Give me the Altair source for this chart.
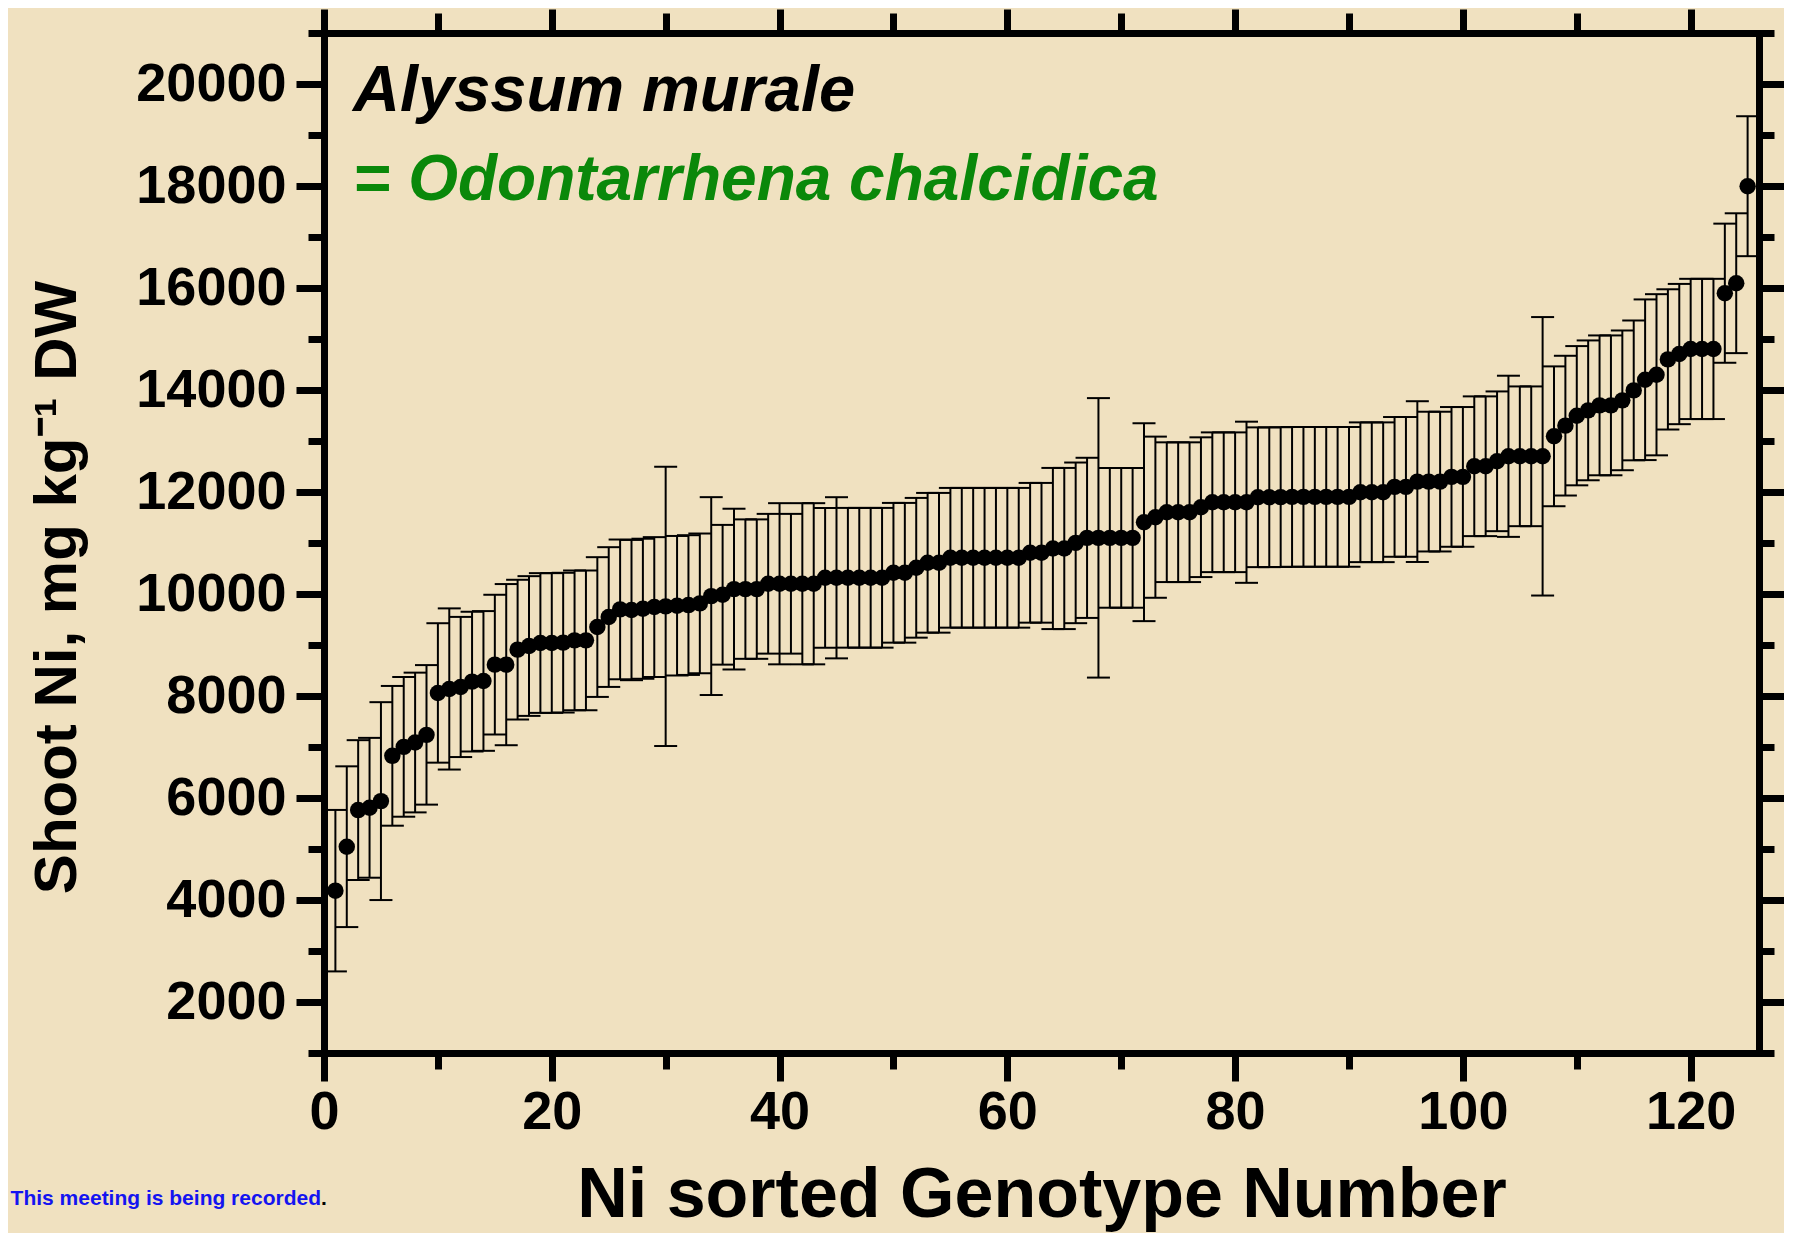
import altair as alt
import pandas as pd

# ---------------- data ----------------
genotype = list(range(1, 126))

shoot_ni = [
    4183, 5045, 5763, 5808, 5939, 6827, 7003, 7088, 7238, 8060,
    8138, 8177, 8282, 8295, 8615, 8615, 8909, 8980, 9039, 9039,
    9046, 9091, 9091, 9352, 9548, 9698, 9685, 9711, 9744, 9757,
    9770, 9783, 9816, 9959, 9985, 10096, 10096, 10096, 10201, 10201,
    10201, 10201, 10201, 10318, 10318, 10318, 10318, 10318, 10318, 10416,
    10416, 10514, 10612, 10612, 10710, 10710, 10710, 10710, 10710, 10710,
    10710, 10808, 10808, 10892, 10892, 11003, 11101, 11101, 11101, 11101,
    11101, 11408, 11506, 11604, 11604, 11604, 11702, 11799, 11799, 11799,
    11799, 11897, 11897, 11900, 11904, 11904, 11904, 11904, 11904, 11904,
    11995, 11995, 11995, 12100, 12100, 12204, 12204, 12204, 12296, 12296,
    12505, 12505, 12602, 12700, 12700, 12700, 12700, 13092, 13301, 13496,
    13601, 13699, 13699, 13797, 13992, 14201, 14299, 14600, 14705, 14805,
    14805, 14805, 15898, 16094, 17996,
]

ni_err = [
    1583, 1576, 1371, 1371, 1940, 1370, 1370, 1370, 1368, 1367,
    1580, 1374, 1370, 1370, 1370, 1580, 1370, 1370, 1370, 1370,
    1370, 1370, 1370, 1370, 1370, 1370, 1375, 1373, 1371, 2738,
    1368, 1370, 1370, 1940, 1370, 1576, 1367, 1367, 1370, 1580,
    1370, 1580, 1580, 1370, 1580, 1370, 1370, 1370, 1370, 1370,
    1370, 1370, 1370, 1370, 1370, 1370, 1370, 1370, 1370, 1370,
    1370, 1370, 1370, 1580, 1580, 1575, 1570, 2740, 1370, 1370,
    1370, 1940, 1580, 1370, 1370, 1370, 1370, 1370, 1370, 1370,
    1580, 1370, 1370, 1370, 1370, 1370, 1370, 1370, 1370, 1370,
    1370, 1370, 1370, 1370, 1370, 1576, 1370, 1370, 1370, 1370,
    1370, 1370, 1370, 1580, 1370, 1370, 2730, 1371, 1370, 1365,
    1371, 1371, 1371, 1370, 1371, 1575, 1580, 1375, 1375, 1375,
    1375, 1375, 1364, 1371, 1372,
]

x_major = list(range(0, 121, 20))
x_minor = list(range(0, 121, 10))
y_major = list(range(2000, 20001, 2000))
y_minor = list(range(1000, 21001, 1000))

title_species = "Alyssum murale"
title_synonym = "= Odontarrhena chalcidica"
x_title = "Ni sorted Genotype Number"
y_title = "Shoot Ni, mg kg\u207b\u00b9 DW"
watermark = "This meeting is being recorded"

df = pd.DataFrame({"g": genotype, "m": shoot_ni, "e": ni_err})
df["lo"] = df["m"] - df["e"]
df["hi"] = df["m"] + df["e"]

# ---------------- layout ----------------
W, H = 1435, 1020
FONT = "Liberation Sans"
BG = "#F0E1C0"

xs = alt.Scale(domain=[0, 126], nice=False, zero=False)
ys = alt.Scale(domain=[1000, 21000], nice=False, zero=False)

common = dict(grid=False, tickColor="black", tickWidth=7, domainColor="black",
              domainWidth=7, domainCap="square")

lab = dict(labelFont=FONT, labelFontSize=54, labelFontWeight="bold",
           labelColor="black", labelFlush=False, labelOverlap=False, format="d")

ax_b_major = alt.Axis(orient="bottom", values=x_major, tickSize=28, labelPadding=4,
                      title=x_title, titleFont=FONT, titleFontSize=70,
                      titleFontWeight="bold", titleColor="black", titleX=W / 2,
                      titleY=163, titleAlign="center", titleBaseline="alphabetic",
                      **lab, **common)
ax_b_minor = alt.Axis(orient="bottom", values=x_minor, tickSize=16, labels=False,
                      title=None, **common)
ax_t_major = alt.Axis(orient="top", values=x_major, tickSize=24, labels=False,
                      title=None, **common)
ax_t_minor = alt.Axis(orient="top", values=x_minor, tickSize=20, labels=False,
                      title=None, **common)

ax_l_major = alt.Axis(orient="left", values=y_major, tickSize=28, labelPadding=10,
                      title=y_title, titleFont=FONT, titleFontSize=60,
                      titleFontWeight="bold", titleColor="black", titleAngle=270,
                      titleX=-267, titleY=554, titleAlign="center",
                      titleBaseline="middle", **lab, **common)
ax_l_minor = alt.Axis(orient="left", values=y_minor, tickSize=16, labels=False,
                      title=None, **common)
ax_r_major = alt.Axis(orient="right", values=y_major, tickSize=26, labels=False,
                      title=None, **common)
ax_r_minor = alt.Axis(orient="right", values=y_minor, tickSize=15, labels=False,
                      title=None, **common)

base = alt.Chart(df)

bars = base.mark_rule(color="black", strokeWidth=2).encode(
    x=alt.X("g:Q", scale=xs, axis=ax_b_major),
    y=alt.Y("lo:Q", scale=ys, axis=ax_l_major),
    y2="hi:Q",
)
cap_hi = base.mark_tick(orient="horizontal", size=23, thickness=2, color="black",
                        opacity=1).encode(
    x=alt.X("g:Q", scale=xs, axis=ax_b_minor),
    y=alt.Y("hi:Q", scale=ys, axis=ax_l_minor),
)
cap_lo = base.mark_tick(orient="horizontal", size=23, thickness=2, color="black",
                        opacity=1).encode(
    x=alt.X("g:Q", scale=xs, axis=ax_t_major),
    y=alt.Y("lo:Q", scale=ys, axis=ax_r_major),
)
pts = base.mark_circle(size=270, color="black", opacity=1).encode(
    x=alt.X("g:Q", scale=xs, axis=ax_t_minor),
    y=alt.Y("m:Q", scale=ys, axis=ax_r_minor),
)

def label(txt, x, y, size, color, style="normal", weight="bold", align="left"):
    return alt.Chart(pd.DataFrame({"t": [txt]})).mark_text(
        align=align, baseline="alphabetic", font=FONT, fontSize=size,
        fontStyle=style, fontWeight=weight, color=color,
    ).encode(x=alt.value(x), y=alt.value(y), text="t:N")

t1 = label(title_species, 29, 78, 65, "black", style="italic")
t2 = label(title_synonym, 29, 167, 64, "#0A880A", style="italic")
w1 = label(watermark, -3, 1172, 21, "#1414F0", align="right")
w2 = label(".", -3, 1172, 21, "black")

chart = alt.layer(bars, cap_hi, cap_lo, pts, t1, t2, w1, w2).resolve_axis(
    x="independent", y="independent"
).properties(
    width=W, height=H,
    autosize=alt.AutoSizeParams(type="none"),
    padding={"left": 316, "top": 25, "right": 25, "bottom": 180},
    background=BG,
).configure_view(stroke=None)

chart.save("out.html", embed_options={"renderer": "svg", "actions": False})
